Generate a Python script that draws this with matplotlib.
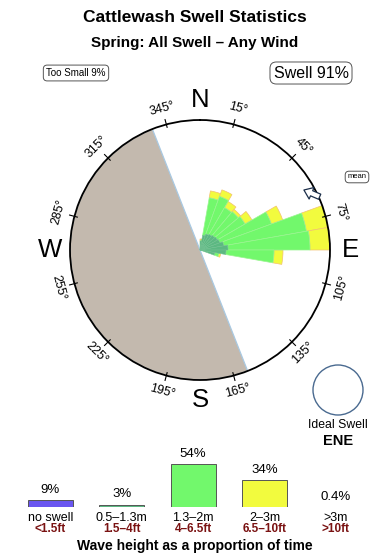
import numpy as np
import matplotlib
matplotlib.use("Agg")
import matplotlib.pyplot as plt
from matplotlib.patches import Circle

plt.rcParams['font.family'] = ['Liberation Sans', 'DejaVu Sans']

# ---------------- data ----------------
title = "Cattlewash Swell Statistics"
subtitle = "Spring: All Swell \u2013 Any Wind"

# rose: 10-degree direction bins (centre, deg), cumulative outer radius of each height class
dir_centres = [5, 15, 25, 35, 45, 55, 65, 75, 85, 95, 105]
r_05_13 = [9, 15, 17, 18, 19, 20, 21, 24, 28, 26, 15]
r_13_2 = [9, 53, 57, 49, 50, 52, 76, 108, 110, 74, 19]
r_2_3 = [11, 60, 64, 56, 53, 60, 88, 135, 135, 83, 21]
r_max = 130

shadow_from, shadow_to = 158.5, 338.5      # blocked sector (deg)
mean_dir = 63                              # mean swell direction (deg)
ideal_dir = "ENE"

tick_angles = [15, 45, 75, 105, 135, 165, 195, 225, 255, 285, 315, 345]
cardinals = ["N", "E", "S", "W"]
cardinal_angles = [0, 90, 180, 270]

# legend: wave height classes
cls_m = ["no swell", "0.5\u20131.3m", "1.3\u20132m", "2\u20133m", ">3m"]
cls_ft = ["<1.5ft", "1.5\u20134ft", "4\u20136.5ft", "6.5\u201310ft", ">10ft"]
cls_pct = [9, 3, 54, 34, 0.4]
cls_lbl = ["9%", "3%", "54%", "34%", "0.4%"]
cls_col = ["#6a56f0", "#5cb882", "#72f86c", "#f2fb3e", "#c8aaaa"]

W, H = 390, 560
fig = plt.figure(figsize=(W / 100, H / 100), dpi=100)
fig.patch.set_facecolor("white")

# overlay axes in pixel coordinates for text
ax0 = fig.add_axes([0, 0, 1, 1])
ax0.set_xlim(0, W)
ax0.set_ylim(H, 0)
ax0.axis("off")

ax0.text(195, 18, title, ha="center", va="center", fontsize=12.5, fontweight="bold")
ax0.text(195, 43, subtitle, ha="center", va="center", fontsize=11, fontweight="bold")
ax0.text(76, 73, f"Too Small {cls_lbl[0]}", ha="center", va="center", fontsize=7,
         bbox=dict(boxstyle="round,pad=0.3,rounding_size=0.4", fc="white", ec="#555555", lw=0.7))
swell_pct = 100 - cls_pct[0]
ax0.text(311, 73, f"Swell {swell_pct:g}%", ha="center", va="center", fontsize=11.5,
         bbox=dict(boxstyle="round,pad=0.22,rounding_size=0.4", fc="white", ec="#555555", lw=0.7))
ax0.text(357, 177, "mean", ha="center", va="center", fontsize=5.5,
         bbox=dict(boxstyle="round,pad=0.3,rounding_size=0.5", fc="white", ec="#555555", lw=0.7))

# ideal swell
ax0.add_patch(Circle((338, 390), 25, fc="white", ec="#4a6a90", lw=1.0))
ax0.text(338, 425, "Ideal Swell", ha="center", va="center", fontsize=8.8)
ax0.text(338, 441, ideal_dir, ha="center", va="center", fontsize=10.5, fontweight="bold")

# ---------------- rose ----------------
cx, cy, R = 200, 250, 130
ax = fig.add_axes([(cx - R) / W, (H - cy - R) / H, 2 * R / W, 2 * R / H], projection="polar")
ax.set_theta_zero_location("N")
ax.set_theta_direction(-1)
ax.set_ylim(0, r_max)
ax.grid(False)
ax.set_xticks([])
ax.set_yticks([])
ax.spines["polar"].set_linewidth(1.3)
ax.spines["polar"].set_color("black")

# blocked sector
span = (shadow_to - shadow_from)
ax.bar(np.deg2rad(shadow_from + span / 2), r_max, width=np.deg2rad(span), bottom=0,
       color="#c3b9ae", edgecolor="#a9c9e2", lw=0.9, zorder=1)

th = np.deg2rad(dir_centres)
wd = np.deg2rad(10)
r1 = np.array(r_05_13, float)
r2 = np.array(r_13_2, float)
r3 = np.array(r_2_3, float)
ax.bar(th, r3 - r2, width=wd, bottom=r2, color=cls_col[3], edgecolor="#f2c070", lw=0.5, zorder=2)
ax.bar(th, r2 - r1, width=wd, bottom=r1, color=cls_col[2], edgecolor="#9af590", lw=0.5, zorder=3)
ax.bar(th, r1, width=wd, bottom=0, color=cls_col[1], edgecolor="#70c090", lw=0.4, zorder=4)

# mean arrow
ax.annotate("", xy=(np.deg2rad(mean_dir - 3), 120), xytext=(np.deg2rad(mean_dir + 3), 131),
            arrowprops=dict(arrowstyle="simple,head_length=0.6,head_width=0.9,tail_width=0.4",
                            fc="white", ec="#1c2f4a", lw=0.9, shrinkA=0, shrinkB=0),
            annotation_clip=False, zorder=6)

# ticks and labels
for a in tick_angles:
    t = np.deg2rad(a)
    ax.plot([t, t], [127, 135], color="black", lw=0.8, clip_on=False, zorder=5)
    rot = -a if (a < 90 or a > 270) else 180 - a
    ax.text(t, 146, f"{a}\u00b0", rotation=rot, rotation_mode="anchor",
            ha="center", va="center", fontsize=9, clip_on=False)
for c, a in zip(cardinals, cardinal_angles):
    ax.text(np.deg2rad(a), 150, c, ha="center", va="center", fontsize=18.5, clip_on=False)

# ---------------- legend bars ----------------
px_per_pct = 0.8
base_y = 507
axh = 60 * px_per_pct
ax2 = fig.add_axes([0, (H - base_y) / H, 1, axh / H])
ax2.patch.set_alpha(0)
xs = np.arange(len(cls_pct))
a_lo = -50.5 / 71.3
ax2.set_xlim(a_lo, a_lo + W / 71.3)
ax2.set_ylim(0, 60)
ax2.axis("off")
ax2.bar(xs, cls_pct, width=45 / 71.3, color=cls_col, edgecolor="#555555", lw=0.7)
for x, p, l in zip(xs, cls_pct, cls_lbl):
    ax2.annotate(l, (x, p), xytext=(0, 3), textcoords="offset points", ha="center",
                 va="bottom", fontsize=9.5, annotation_clip=False)

for x, m, f in zip(xs, cls_m, cls_ft):
    px = 50.5 + 71.3 * x
    ax0.text(px, 518, m, ha="center", va="center", fontsize=9)
    ax0.text(px, 529, f, ha="center", va="center", fontsize=8.5, fontweight="bold", color="#7a1212")
ax0.text(195, 546, "Wave height as a proportion of time", ha="center", va="center",
         fontsize=10, fontweight="bold")

fig.savefig("out.png", dpi=100)
